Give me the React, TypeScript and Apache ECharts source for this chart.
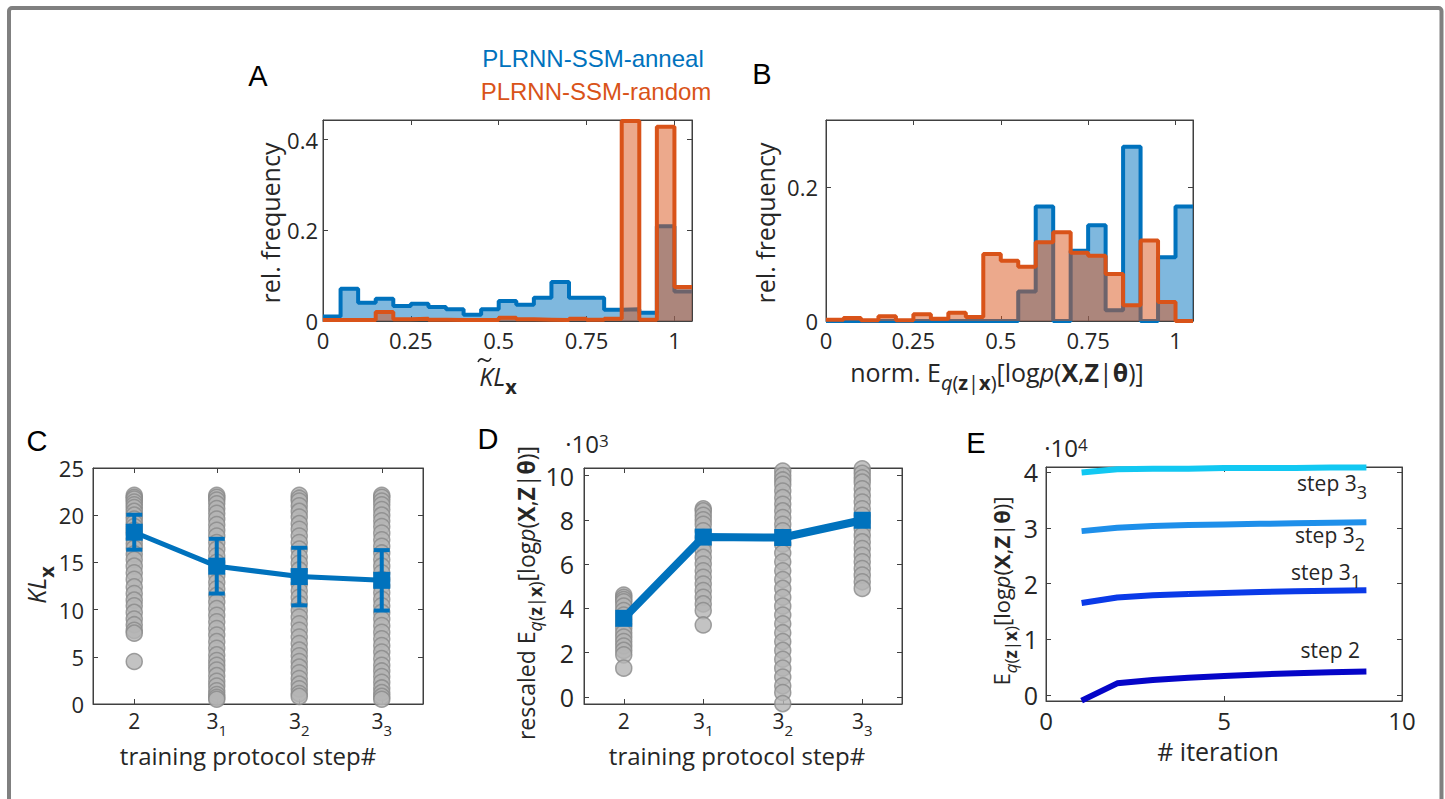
import React, { useEffect, useRef } from 'react';
import * as echarts from 'echarts';

const BLUE = '#0072BD';
const ORANGE = '#D95319';
const INK = '#262626';
const AXC = '#404040';
const FONT = "'Open Sans', 'Noto Sans', 'DejaVu Sans', sans-serif";
const SANS = "'Liberation Sans', Arial, sans-serif";

// ---------- Panels A / B : histograms ----------
const binEdges = [0, 0.05, 0.1, 0.15, 0.2, 0.25, 0.3, 0.35, 0.4, 0.45, 0.5, 0.55, 0.6, 0.65, 0.7, 0.75, 0.8, 0.85, 0.9, 0.95, 1.0, 1.05];
const klAnneal = [0.010, 0.071, 0.040, 0.049, 0.033, 0.038, 0.031, 0.026, 0.014, 0.026, 0.044, 0.036, 0.051, 0.086, 0.051, 0.051, 0.025, 0.026, 0.018, 0.209, 0.065];
const klRandom = [0.002, 0.002, 0.002, 0.020, 0.004, 0.005, 0.003, 0.002, 0.002, 0.002, 0.007, 0.004, 0.003, 0.002, 0.005, 0.003, 0.005, 0.441, 0.003, 0.428, 0.075];
const llAnneal = [0, 0, 0, 0, 0, 0, 0, 0, 0, 0, 0, 0.044, 0.171, 0.000, 0.105, 0.143, 0.016, 0.260, 0.000, 0.095, 0.171];
const llRandom = [0.002, 0.0045, 0.001, 0.007, 0.001, 0.010, 0.0035, 0.0125, 0.006, 0.100, 0.090, 0.081, 0.1175, 0.1325, 0.102, 0.0975, 0.070, 0.0235, 0.120, 0.0285, 0.000];
const histXTicks = [0, 0.25, 0.5, 0.75, 1];
const histXLabels = ['0', '0.25', '0.5', '0.75', '1'];
const histAYTicks = [0, 0.2, 0.4];
const histBYTicks = [0, 0.2];

// ---------- Panel C ----------
const stepPositions = [1, 2, 3, 4];
const stepLabels = ['{m|2}', '{m|3}{s|1}', '{m|3}{s|2}', '{m|3}{s|3}'];
const klStep2 = [22.1, 21.9, 21.7, 21.4, 21.1, 20.8, 20.4, 20.0, 19.6, 19.2, 18.8, 18.4, 18.0, 17.5, 17.0, 16.5, 15.9, 15.3, 14.6, 13.9, 13.2, 12.4, 11.7, 11.0, 10.4, 9.7, 9.0, 8.4, 7.8, 7.5, 4.5];
const klStep31 = [22.1, 21.9, 21.6, 21.2, 20.7, 20.2, 19.6, 19.0, 18.4, 17.8, 17.1, 16.4, 15.7, 15.0, 14.3, 13.6, 12.9, 12.2, 11.5, 10.8, 10.1, 9.4, 8.7, 8.0, 7.3, 6.6, 5.9, 5.2, 4.6, 4.1, 3.6, 3.0, 2.4, 1.9, 1.4, 1.0, 0.7, 0.5];
const klStep32 = [22.1, 21.8, 21.5, 21.0, 20.4, 19.8, 19.1, 18.5, 17.8, 17.1, 16.4, 15.6, 14.9, 14.2, 13.4, 12.7, 12.0, 11.3, 10.6, 9.9, 9.2, 8.5, 7.8, 7.1, 6.4, 5.7, 5.1, 4.5, 3.9, 3.3, 2.7, 2.1, 1.6, 1.1, 0.8];
const klStep33 = [22.1, 21.9, 21.5, 21.1, 20.6, 20.0, 19.4, 18.8, 18.1, 17.4, 16.7, 16.0, 15.3, 14.6, 13.9, 13.2, 12.5, 11.8, 11.1, 10.4, 9.7, 9.0, 8.3, 7.6, 6.9, 6.2, 5.5, 4.8, 4.1, 3.5, 2.9, 2.3, 1.7, 1.2, 0.8, 0.5];
const klMeans = [18.2, 14.6, 13.5, 13.1];
const klErr = [1.85, 2.9, 3.05, 3.2];
const klYTicks = [0, 5, 10, 15, 20, 25];

// ---------- Panel D (x 10^3) ----------
const llStep2 = [4.6, 4.5, 4.4, 4.3, 4.1, 3.9, 3.7, 3.5, 3.3, 3.1, 2.9, 2.7, 2.5, 2.3, 2.1, 1.9, 1.3];
const llStep31 = [8.5, 8.4, 8.2, 8.0, 7.8, 7.5, 7.2, 6.9, 6.6, 6.3, 6.0, 5.7, 5.4, 5.1, 4.8, 4.5, 4.2, 3.9, 3.25];
const llStep32 = [10.2, 10.0, 9.8, 9.6, 9.3, 9.0, 8.7, 8.4, 8.1, 7.8, 7.5, 7.2, 6.9, 6.5, 6.1, 5.7, 5.3, 4.9, 4.5, 4.1, 3.7, 3.3, 2.9, 2.5, 2.1, 1.7, 1.3, 0.9, 0.5, 0.2, -0.3];
const llStep33 = [10.3, 10.1, 9.9, 9.7, 9.4, 9.1, 8.8, 8.5, 8.2, 7.9, 7.6, 7.3, 7.0, 6.7, 6.4, 6.1, 5.8, 5.5, 5.2, 4.9];
const llMeans = [3.55, 7.22, 7.2, 7.98];
const llYTicks = [0, 2, 4, 6, 8, 10];

// ---------- Panel E (x 10^4) ----------
const iterations = [1, 2, 3, 4, 5, 6, 7, 8, 9];
const eStep2 = [-0.1, 0.21, 0.27, 0.31, 0.34, 0.37, 0.39, 0.41, 0.42];
const eStep31 = [1.65, 1.75, 1.79, 1.81, 1.83, 1.85, 1.86, 1.87, 1.88];
const eStep32 = [2.94, 3.0, 3.03, 3.05, 3.06, 3.07, 3.08, 3.09, 3.10];
const eStep33 = [3.99, 4.05, 4.06, 4.06, 4.07, 4.07, 4.07, 4.08, 4.08];
const eColors = ['#0505C8', '#0A3AE8', '#1E8FEA', '#12C8F2'];
const eYTicks = [0, 1, 2, 3, 4];
const eXTicks = [0, 5, 10];

function richStyles(size: number, ratio = 0.78) {
  const sub = Math.round(size * ratio);
  const lh = Math.round(size * 1.2);
  const pad = Math.max(0, Math.round(1.15 * size - 0.8 * sub));
  const base: any = { fontFamily: FONT, color: INK, fill: INK, verticalAlign: 'top' };
  return {
    m: { ...base, fontSize: size, lineHeight: lh },
    i: { ...base, fontSize: size, lineHeight: lh, fontStyle: 'italic' },
    b: { ...base, fontSize: size, lineHeight: lh, fontWeight: 'bold' },
    s: { ...base, fontSize: sub, lineHeight: sub, padding: [pad, 0, 0, 0] },
    si: { ...base, fontSize: sub, lineHeight: sub, padding: [pad, 0, 0, 0], fontStyle: 'italic' },
    sb: { ...base, fontSize: sub, lineHeight: sub, padding: [pad, 0, 0, 0], fontWeight: 'bold' },
    up: { ...base, fontSize: Math.round(size * 0.7), lineHeight: Math.round(size * 0.84) },
  };
}

function txt(x: number, y: number, text: string, size: number, opts: any = {}) {
  return {
    type: 'text', x, y, z: 100, rotation: opts.rot || 0,
    style: {
      text, rich: richStyles(size, opts.ratio || 0.78), fontFamily: opts.font || FONT, fontSize: size,
      fill: opts.color || INK, align: opts.align || 'center', verticalAlign: 'middle',
    },
  };
}

function axisBase(gridIndex: number, min: number, max: number, ticks: number[]) {
  return {
    type: 'value', gridIndex, min, max,
    splitLine: { show: false },
    axisLine: { show: true, onZero: false, lineStyle: { color: AXC, width: 1 } },
    axisTick: { show: true, inside: true, length: 5, customValues: ticks, lineStyle: { color: AXC, width: 1 } },
  };
}

function xAxes(gridIndex: number, min: number, max: number, ticks: number[], fmt: any, fontSize: number, margin: number) {
  const base = axisBase(gridIndex, min, max, ticks);
  return [
    { ...base, position: 'bottom', axisLabel: { show: true, customValues: ticks, formatter: fmt, fontSize, fontFamily: FONT, color: INK, margin, rich: richStyles(fontSize, 0.72), hideOverlap: false } },
    { ...base, position: 'top', axisLabel: { show: false } },
  ];
}
function yAxes(gridIndex: number, min: number, max: number, ticks: number[], fmt: any, fontSize: number, margin: number) {
  const base = axisBase(gridIndex, min, max, ticks);
  return [
    { ...base, position: 'left', axisLabel: { show: true, customValues: ticks, formatter: fmt, fontSize, fontFamily: FONT, color: INK, margin, hideOverlap: false } },
    { ...base, position: 'right', axisLabel: { show: false } },
  ];
}

function histData(values: number[]) {
  const pts = values.map((v, i) => [binEdges[i], v]);
  pts.push([binEdges[values.length], values[values.length - 1]]);
  return pts;
}

function histSeries(values: number[], color: string, axis: number, z: number) {
  return {
    type: 'line', xAxisIndex: axis, yAxisIndex: axis, step: 'end', z,
    data: histData(values), symbol: 'none', showSymbol: false,
    lineStyle: { color, width: 4 }, itemStyle: { color },
    areaStyle: { color, opacity: 0.5 },
  };
}

function scatterPoints(cols: number[][]) {
  const pts: number[][] = [];
  cols.forEach((col, i) => col.forEach((v) => pts.push([stepPositions[i], v])));
  return pts;
}

const GREY_DOT = { color: '#b4b4b4', borderColor: '#8a8a8a', borderWidth: 1.5 };

export default function App() {
  const ref = useRef<HTMLDivElement>(null);
  useEffect(() => {
    document.body.style.margin = '0';
    if (!ref.current) return;
    const chart = echarts.init(ref.current, undefined, { renderer: 'svg' });
    const stepFmt = (v: number) => stepLabels[stepPositions.indexOf(Math.round(v))] || '';
    const histFmt = (v: number) => histXLabels[histXTicks.indexOf(v)] ?? String(v);
    const oneDec = (v: number) => (v === 0 ? '0' : v.toFixed(1));
    const plain = (v: number) => String(v);

    const xAxis = [
      ...xAxes(0, 0, 1.05, histXTicks, histFmt, 22, 8),
      ...xAxes(1, 0, 1.05, histXTicks, histFmt, 22, 8),
      ...xAxes(2, 0.5, 4.5, stepPositions, stepFmt, 21, 6),
      ...xAxes(3, 0.5, 4.5, stepPositions, stepFmt, 21, 6),
      ...xAxes(4, 0, 10, eXTicks, plain, 24, 7),
    ];
    const yAxis = [
      ...yAxes(0, 0, 0.443, histAYTicks, oneDec, 22, 5),
      ...yAxes(1, 0, 0.3, histBYTicks, oneDec, 22, 8),
      ...yAxes(2, 0, 25, klYTicks, plain, 22, 9),
      ...yAxes(3, -0.32, 10.34, llYTicks, plain, 25, 10),
      ...yAxes(4, -0.107, 4.09, eYTicks, plain, 25, 8),
    ];
    const gridStyle = { show: true, borderColor: AXC, borderWidth: 1, backgroundColor: 'transparent', containLabel: false };
    const grid = [
      { ...gridStyle, left: 323, top: 120, width: 369, height: 201 },
      { ...gridStyle, left: 826, top: 120, width: 367, height: 201 },
      { ...gridStyle, left: 93, top: 468, width: 330, height: 236 },
      { ...gridStyle, left: 584, top: 468, width: 318, height: 236 },
      { ...gridStyle, left: 1046, top: 467, width: 356, height: 234 },
    ];

    const errorBars = {
      type: 'custom', xAxisIndex: 4, yAxisIndex: 4, z: 4,
      data: klMeans.map((m, i) => [stepPositions[i], m - klErr[i], m + klErr[i]]),
      encode: { x: 0, y: [1, 2] },
      renderItem: (_p: any, api: any) => {
        const x = api.value(0);
        const lo = api.coord([x, api.value(1)]);
        const hi = api.coord([x, api.value(2)]);
        const cap = 8;
        const style = { stroke: BLUE, lineWidth: 4 };
        return {
          type: 'group',
          children: [
            { type: 'line', shape: { x1: lo[0], y1: lo[1], x2: hi[0], y2: hi[1] }, style },
            { type: 'line', shape: { x1: lo[0] - cap, y1: lo[1], x2: lo[0] + cap, y2: lo[1] }, style },
            { type: 'line', shape: { x1: hi[0] - cap, y1: hi[1], x2: hi[0] + cap, y2: hi[1] }, style },
          ],
        };
      },
    };

    const eSeries = [eStep2, eStep31, eStep32, eStep33].map((vals, k) => ({
      type: 'line', xAxisIndex: 8, yAxisIndex: 8, z: 3 + k,
      data: vals.map((v, i) => [iterations[i], v]),
      symbol: 'none', showSymbol: false,
      lineStyle: { color: eColors[k], width: 6 }, itemStyle: { color: eColors[k] },
    }));

    const series: any[] = [
      histSeries(klAnneal, BLUE, 0, 2),
      histSeries(klRandom, ORANGE, 0, 3),
      histSeries(llAnneal, BLUE, 2, 2),
      histSeries(llRandom, ORANGE, 2, 3),
      {
        type: 'scatter', xAxisIndex: 4, yAxisIndex: 4, z: 2, symbolSize: 16,
        data: scatterPoints([klStep2, klStep31, klStep32, klStep33]), itemStyle: GREY_DOT,
      },
      errorBars,
      {
        type: 'line', xAxisIndex: 4, yAxisIndex: 4, z: 5,
        data: klMeans.map((m, i) => [stepPositions[i], m]),
        symbol: 'rect', symbolSize: 17, showSymbol: true,
        lineStyle: { color: BLUE, width: 5 }, itemStyle: { color: BLUE },
      },
      {
        type: 'scatter', xAxisIndex: 6, yAxisIndex: 6, z: 2, symbolSize: 16,
        data: scatterPoints([llStep2, llStep31, llStep32, llStep33]), itemStyle: GREY_DOT,
      },
      {
        type: 'line', xAxisIndex: 6, yAxisIndex: 6, z: 5,
        data: llMeans.map((m, i) => [stepPositions[i], m]),
        symbol: 'rect', symbolSize: 17, showSymbol: true,
        lineStyle: { color: BLUE, width: 8 }, itemStyle: { color: BLUE },
      },
      ...eSeries,
    ];

    const eqLabel = '{si|q}{s|(}{sb|z}{s||}{sb|x}{s|)}{m|[log}{i|p}{m|(}{b|X}{m|,}{b|Z}{m||}{b|θ}{m|)]}';
    const graphic: any[] = [
      { type: 'rect', z: 0, shape: { x: 9, y: 8, width: 1432.5, height: 810, r: 3 }, style: { fill: 'none', stroke: '#808080', lineWidth: 4 } },
      txt(593, 58, 'PLRNN-SSM-anneal', 24, { font: SANS, color: BLUE }),
      txt(596, 91, 'PLRNN-SSM-random', 24, { font: SANS, color: ORANGE }),
      txt(258, 76, 'A', 29, { font: SANS, color: '#000' }),
      txt(762, 74, 'B', 29, { font: SANS, color: '#000' }),
      txt(37, 441, 'C', 29, { font: SANS, color: '#000' }),
      txt(488, 439, 'D', 29, { font: SANS, color: '#000' }),
      txt(976, 443, 'E', 29, { font: SANS, color: '#000' }),
      txt(270, 223, 'rel. frequency', 25, { rot: Math.PI / 2 }),
      txt(765, 223, 'rel. frequency', 25, { rot: Math.PI / 2 }),
      txt(498, 378, '{i|KL}{sb|x}', 25),
      {
        type: 'bezierCurve', z: 100,
        shape: { x1: 478, y1: 362, x2: 491, y2: 358, cpx1: 482, cpy1: 353, cpx2: 487, cpy2: 367 },
        style: { stroke: INK, lineWidth: 1.6, fill: 'none' },
      },
      txt(997, 374, '{m|norm. E}' + eqLabel, 25),
      txt(38, 585, '{i|KL}{sb|x}', 25, { rot: Math.PI / 2 }),
      txt(248, 755, 'training protocol step#', 24),
      txt(528, 593, '{m|rescaled E}' + eqLabel, 23, { rot: Math.PI / 2 }),
      txt(737, 755, 'training protocol step#', 24),
      txt(587, 446, '{m|·10}{up|3}', 24),
      txt(1003, 591, '{m|E}' + eqLabel, 22, { rot: Math.PI / 2 }),
      txt(1218, 751, '# iteration', 25),
      txt(1066, 450, '{m|·10}{up|4}', 24),
      txt(1367, 485, '{m|step 3}{s|3}', 21, { align: 'right', ratio: 0.85 }),
      txt(1365, 537, '{m|step 3}{s|2}', 21, { align: 'right', ratio: 0.85 }),
      txt(1361, 574, '{m|step 3}{s|1}', 21, { align: 'right', ratio: 0.85 }),
      txt(1360, 652, '{m|step 2}', 21, { align: 'right' }),
    ];

    chart.setOption({
      animation: false,
      backgroundColor: '#ffffff',
      grid, xAxis, yAxis, series, graphic,
    });
    return () => chart.dispose();
  }, []);
  return <div ref={ref} style={{ width: 1445, height: 799 }} />;
}
